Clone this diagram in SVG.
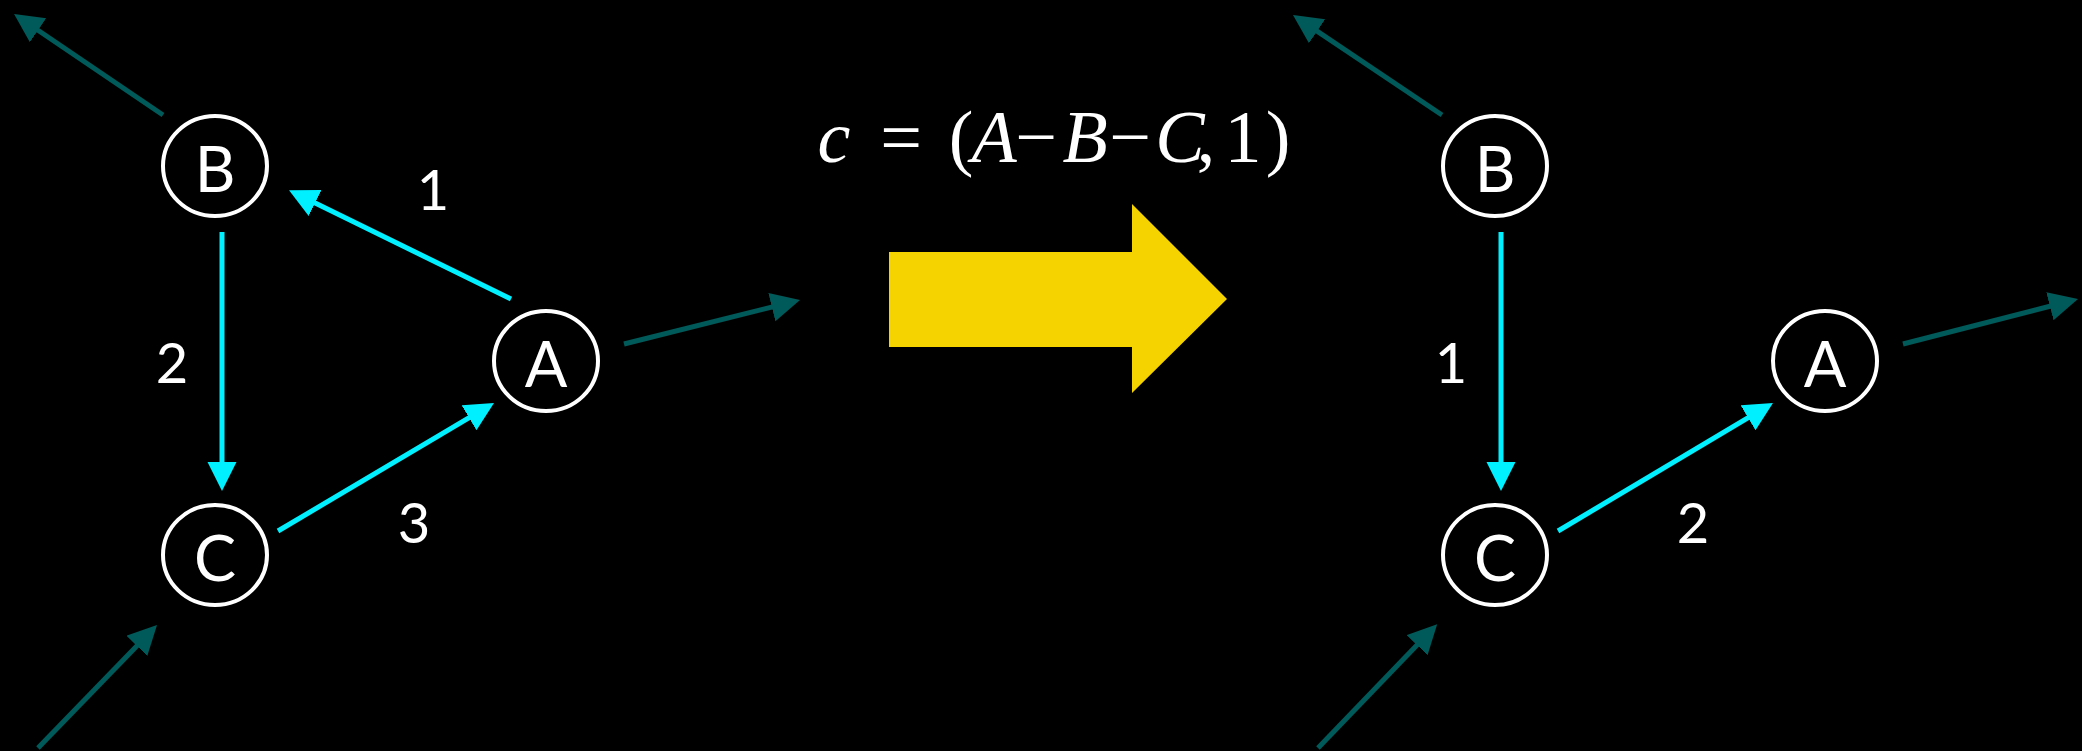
<svg xmlns="http://www.w3.org/2000/svg" width="2082" height="751" viewBox="0 0 2082 751">
<style>
.node ellipse{fill:none;stroke:#ffffff;stroke-width:4}
.node text{font-family:Lato,"Liberation Sans",sans-serif;font-size:63px;fill:#ffffff;text-anchor:middle}
.lbl{font-family:Lato,"Liberation Sans",sans-serif;font-size:56px;fill:#ffffff;text-anchor:middle}
.cy{stroke:#00F0FF;stroke-width:5;fill:none;marker-end:url(#ac)}
.tl{stroke:#005A5A;stroke-width:5;fill:none;marker-end:url(#at)}
.math{font-family:"Liberation Serif",serif;font-size:74px;fill:#ffffff;text-anchor:middle}
.it{font-style:italic}
</style>
<defs>
<marker id="ac" markerUnits="userSpaceOnUse" markerWidth="30" markerHeight="30" refX="9" refY="14.5" orient="auto" viewBox="0 0 30 30"><path d="M0,0 L29,14.5 L0,29 z" fill="#00F0FF"/></marker>
<marker id="at" markerUnits="userSpaceOnUse" markerWidth="30" markerHeight="30" refX="9" refY="14.5" orient="auto" viewBox="0 0 30 30"><path d="M0,0 L29,14.5 L0,29 z" fill="#005A5A"/></marker>
</defs>
<rect width="2082" height="751" fill="#000000"/>
<g id="connectors">
<path class="cy" d="M511,299 L307,199"/>
<path class="cy" d="M222,232 L222,471"/>
<path class="cy" d="M278,531 L476.8,413.2"/>
<path class="tl" d="M163,115 L30.6,25.2"/>
<path class="tl" d="M624,344 L780.6,304.9"/>
<path class="tl" d="M38,748 L143.1,639.4"/>
<path class="tl" d="M1442,115 L1309.6,26.2"/>
<path class="cy" d="M1501,232 L1501,471"/>
<path class="cy" d="M1558,531 L1755.8,413.2"/>
<path class="tl" d="M1903,344 L2058.6,304"/>
<path class="tl" d="M1318,748 L1423.3,638.6"/>
</g>
<g id="labels">
<text class="lbl" x="433" y="210">1</text>
<text class="lbl" x="172" y="383">2</text>
<text class="lbl" x="414" y="543">3</text>
<text class="lbl" x="1451" y="383">1</text>
<text class="lbl" x="1693" y="543">2</text>
</g>
<g id="left-B" class="node"><ellipse cx="215" cy="166" rx="52" ry="50"/><text x="215" y="192">B</text></g>
<g id="left-A" class="node"><ellipse cx="546" cy="361" rx="52" ry="50"/><text x="546" y="387">A</text></g>
<g id="left-C" class="node"><ellipse cx="215" cy="555" rx="52" ry="50"/><text x="215" y="581">C</text></g>
<g id="right-B" class="node"><ellipse cx="1495" cy="166" rx="52" ry="50"/><text x="1495" y="192">B</text></g>
<g id="right-A" class="node"><ellipse cx="1825" cy="361" rx="52" ry="50"/><text x="1825" y="387">A</text></g>
<g id="right-C" class="node"><ellipse cx="1495" cy="555" rx="52" ry="50"/><text x="1495" y="581">C</text></g>
<g id="formula">
<text class="math" y="162"><tspan class="it" x="834">c</tspan><tspan x="901">=</tspan><tspan x="961">(</tspan><tspan class="it" x="994">A</tspan><tspan x="1036">−</tspan><tspan class="it" x="1085">B</tspan><tspan x="1130">−</tspan><tspan class="it" x="1180">C</tspan><tspan x="1206">,</tspan><tspan x="1243">1</tspan><tspan x="1278">)</tspan></text>
</g>
<g id="big-arrow">
<polygon points="889,252 1132,252 1132,204 1227,299 1132,393 1132,347 889,347" fill="#F4D300"/>
</g>
</svg>
